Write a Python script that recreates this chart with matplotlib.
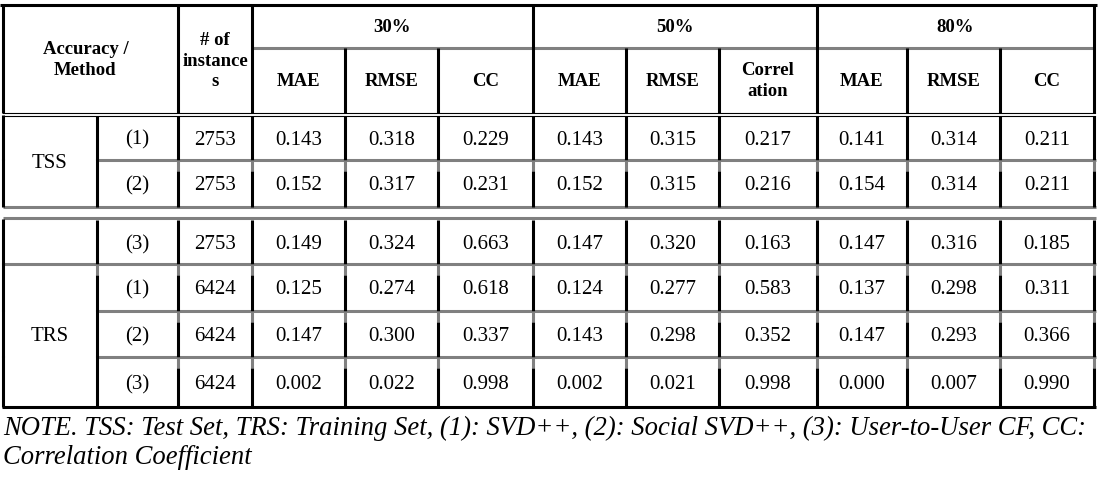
import matplotlib
matplotlib.use("Agg")
import matplotlib.pyplot as plt

# table content
row_groups = ["TSS", "", "TRS"]
methods = ["(1)", "(2)", "(3)", "(1)", "(2)", "(3)"]
instances = [2753, 2753, 2753, 6424, 6424, 6424]
ratios = ["30%", "50%", "80%"]
sub_headers = [["MAE", "RMSE", "CC"], ["MAE", "RMSE", "Correl\nation"], ["MAE", "RMSE", "CC"]]

mae_30 = [0.143, 0.152, 0.149, 0.125, 0.147, 0.002]
rmse_30 = [0.318, 0.317, 0.324, 0.274, 0.300, 0.022]
cc_30 = [0.229, 0.231, 0.663, 0.618, 0.337, 0.998]
mae_50 = [0.143, 0.152, 0.147, 0.124, 0.143, 0.002]
rmse_50 = [0.315, 0.315, 0.320, 0.277, 0.298, 0.021]
cc_50 = [0.217, 0.216, 0.163, 0.583, 0.352, 0.998]
mae_80 = [0.141, 0.154, 0.147, 0.137, 0.147, 0.000]
rmse_80 = [0.314, 0.314, 0.316, 0.298, 0.293, 0.007]
cc_80 = [0.211, 0.211, 0.185, 0.311, 0.366, 0.990]

note_lines = ["NOTE. TSS: Test Set, TRS: Training Set, (1): SVD++, (2): Social SVD++, (3): User-to-User CF, CC:",
              "Correlation Coefficient"]

plt.rcParams['font.family'] = ['Liberation Serif', 'DejaVu Serif']

# layout in pixels
xs = [3, 97, 178, 252, 345, 438, 533, 626, 719, 817, 907, 1000, 1094]
y_top, y_mid = 4.5, 47.7
row_tops = [115.5, 160, 220, 264, 311, 357]
row_bots = [160, 207, 264, 311, 357, 407]
gray_lines = [160, 207, 217.5, 264, 311, 357]
GRAY = '#808080'
LW = 2.2  # ~3 px

fig = plt.figure(figsize=(11.05, 4.8), dpi=100)
ax = fig.add_axes([0, 0, 1, 1])
ax.set_xlim(0, 1105)
ax.set_ylim(480, 0)
ax.axis('off')

# header lines
ax.plot([0, 1097], [y_top, y_top], color='black', lw=LW, solid_capstyle='butt')
ax.plot([xs[3], xs[-1] + 1], [y_mid, y_mid], color=GRAY, lw=LW, solid_capstyle='butt')
ax.plot([xs[0], xs[-1] + 1], [112.5, 112.5], color='black', lw=0.8)
ax.plot([xs[0], xs[-1] + 1], [115.5, 115.5], color='black', lw=0.8)
for x in [xs[0], xs[2], xs[3], xs[6], xs[9], xs[12]]:
    ax.plot([x, x], [y_top, 112.5], color='black', lw=LW, solid_capstyle='butt')
for x in [xs[4], xs[5], xs[7], xs[8], xs[10], xs[11]]:
    ax.plot([x, x], [y_mid, 112.5], color='black', lw=LW, solid_capstyle='butt')

# horizontal gray rules in body
for y in gray_lines:
    x0 = xs[1] if y in (160, 311, 357) else xs[0]
    ax.plot([x0, xs[-1] + 2], [y, y], color=GRAY, lw=LW, solid_capstyle='butt')
ax.plot([xs[0] - 1, xs[-1] + 1.5], [407, 407], color='black', lw=LW, solid_capstyle='butt')

# vertical rules in body
for r, (t, b) in enumerate(zip(row_tops, row_bots)):
    after_gray = t in (160, 264, 311, 357)
    for j, x in enumerate(xs):
        if j == 0 or (j == 1 and r in (1, 4, 5)):
            ax.plot([x, x], [t - 1, b], color='black', lw=LW, solid_capstyle='butt')
        elif after_gray:
            ax.plot([x, x], [t, t + 11], color=GRAY, lw=LW, solid_capstyle='butt')
            ax.plot([x, x], [t + 11, b], color='black', lw=LW, solid_capstyle='butt')
        else:
            ax.plot([x, x], [t, b], color='black', lw=LW, solid_capstyle='butt')

# header text
hfont = dict(fontsize=13.5, fontweight='bold', ha='center', va='center', linespacing=1.3)
ax.text((xs[0] + xs[2]) / 2 - 5, 60, "Accuracy /\nMethod", **hfont)
ax.text((xs[2] + xs[3]) / 2, 61, "# of\ninstance\ns", **hfont)
for k, lab in enumerate(ratios):
    ax.text((xs[3 + 3 * k] + xs[6 + 3 * k]) / 2, 27, lab, **hfont)
    for m, sub in enumerate(sub_headers[k]):
        ax.text((xs[3 + 3 * k + m] + xs[4 + 3 * k + m]) / 2, 81, sub, **hfont)

# body text
dfont = dict(fontsize=15, ha='center', va='center')
ax.text((xs[0] + xs[1]) / 2, (row_tops[0] + row_bots[1]) / 2 + 2, row_groups[0], **dfont)
ax.text((xs[0] + xs[1]) / 2, (row_tops[3] + row_bots[5]) / 2 + 1, row_groups[2], **dfont)
columns = [mae_30, rmse_30, cc_30, mae_50, rmse_50, cc_50, mae_80, rmse_80, cc_80]
for r in range(len(methods)):
    yc = (row_tops[r] + row_bots[r]) / 2 + 2.5
    ax.text((xs[1] + xs[2]) / 2, yc, methods[r], **dfont)
    ax.text((xs[2] + xs[3]) / 2, yc, str(instances[r]), **dfont)
    for c, vals in enumerate(columns):
        ax.text((xs[3 + c] + xs[4 + c]) / 2, yc, f"{vals[r]:.3f}", **dfont)

for i, line in enumerate(note_lines):
    ax.text(3, 435 + 29 * i, line, fontsize=19.2, style='italic', ha='left', va='baseline')

fig.savefig("out.png", dpi=100)
